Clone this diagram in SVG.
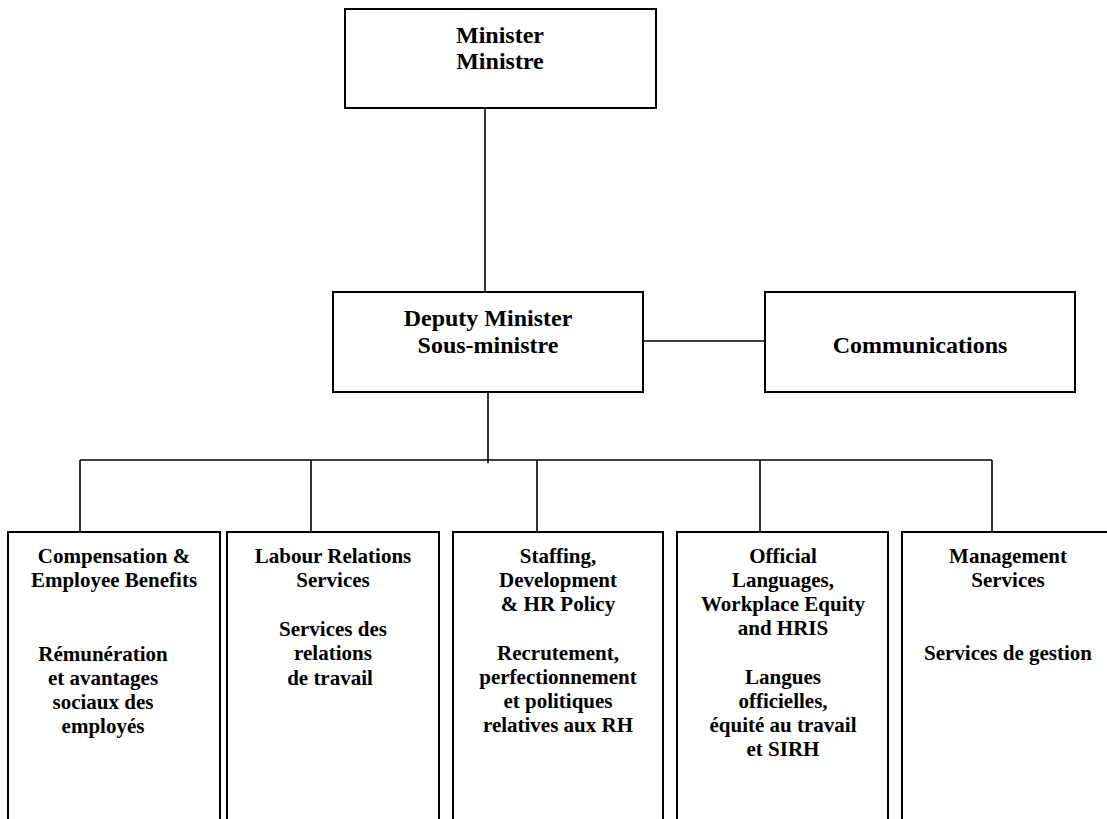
<svg xmlns="http://www.w3.org/2000/svg" width="1107" height="819" viewBox="0 0 1107 819">
<style>
.box{fill:#fff;stroke:#000;stroke-width:2}
.ln{stroke:#000;stroke-width:1.6;fill:none}
.t1{font-family:"Liberation Serif","Times New Roman",serif;font-weight:bold;font-size:24px;text-anchor:middle;fill:#000}
.t2{font-family:"Liberation Serif","Times New Roman",serif;font-weight:bold;font-size:21px;text-anchor:middle;fill:#000}
</style>
<rect width="1107" height="819" fill="#fff"/>
<g id="connectors">
<line class="ln" x1="485" y1="108" x2="485" y2="292"/>
<line class="ln" x1="643" y1="341" x2="765" y2="341"/>
<line class="ln" x1="488" y1="392" x2="488" y2="463"/>
<line class="ln" x1="80" y1="460" x2="992" y2="460"/>
<line class="ln" x1="80" y1="460" x2="80" y2="532"/>
<line class="ln" x1="311" y1="460" x2="311" y2="532"/>
<line class="ln" x1="537" y1="460" x2="537" y2="532"/>
<line class="ln" x1="760" y1="460" x2="760" y2="532"/>
<line class="ln" x1="992" y1="460" x2="992" y2="532"/>
</g>
<g id="minister">
<rect class="box" x="345" y="9" width="311" height="99"/>
<text class="t1" x="500" y="43">Minister</text>
<text class="t1" x="500" y="69">Ministre</text>
</g>
<g id="deputy">
<rect class="box" x="333" y="292" width="310" height="100"/>
<text class="t1" x="488" y="326">Deputy Minister</text>
<text class="t1" x="488" y="353">Sous-ministre</text>
</g>
<g id="communications">
<rect class="box" x="765" y="292" width="310" height="100"/>
<text class="t1" x="920" y="353">Communications</text>
</g>
<g id="compensation">
<rect class="box" x="8" y="532" width="212" height="300"/>
<text class="t2" x="114" y="563">Compensation &amp;</text>
<text class="t2" x="114" y="587">Employee Benefits</text>
<text class="t2" x="103" y="661">Rémunération</text>
<text class="t2" x="103" y="685">et avantages</text>
<text class="t2" x="103" y="709">sociaux des</text>
<text class="t2" x="103" y="733">employés</text>
</g>
<g id="labour">
<rect class="box" x="227" y="532" width="212" height="300"/>
<text class="t2" x="333" y="563">Labour Relations</text>
<text class="t2" x="333" y="587">Services</text>
<text class="t2" x="333" y="636">Services des</text>
<text class="t2" x="333" y="660">relations</text>
<text class="t2" x="330" y="685">de travail</text>
</g>
<g id="staffing">
<rect class="box" x="453" y="532" width="210" height="300"/>
<text class="t2" x="558" y="563">Staffing,</text>
<text class="t2" x="558" y="587">Development</text>
<text class="t2" x="558" y="611">&amp; HR Policy</text>
<text class="t2" x="558" y="660">Recrutement,</text>
<text class="t2" x="558" y="684">perfectionnement</text>
<text class="t2" x="558" y="708">et politiques</text>
<text class="t2" x="558" y="732">relatives aux RH</text>
</g>
<g id="official">
<rect class="box" x="677" y="532" width="211" height="300"/>
<text class="t2" x="783" y="563">Official</text>
<text class="t2" x="783" y="587">Languages,</text>
<text class="t2" x="783" y="611">Workplace Equity</text>
<text class="t2" x="783" y="635">and HRIS</text>
<text class="t2" x="783" y="684">Langues</text>
<text class="t2" x="783" y="708">officielles,</text>
<text class="t2" x="783" y="732">équité au travail</text>
<text class="t2" x="783" y="756">et SIRH</text>
</g>
<g id="management">
<rect class="box" x="902" y="532" width="211" height="300"/>
<text class="t2" x="1008" y="563">Management</text>
<text class="t2" x="1008" y="587">Services</text>
<text class="t2" x="1008" y="660">Services de gestion</text>
</g>
</svg>
